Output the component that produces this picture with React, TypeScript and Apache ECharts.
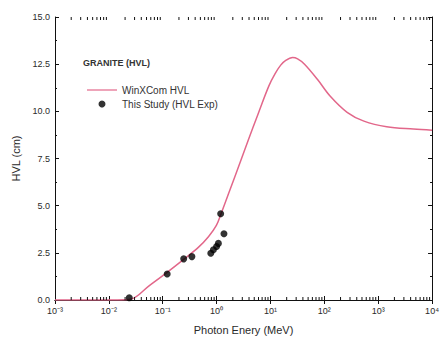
import React, { useEffect, useRef } from "react";
import * as echarts from "echarts";

const curveEnergy = [0.001, 0.0144, 0.026, 0.0557, 0.119, 0.245, 0.463, 0.706, 0.99, 1.22, 1.65, 2.86, 3.85, 5.87, 9.35, 12.2, 15.5, 19.2, 25.8, 31.9, 42.9, 74.3, 129, 265, 543, 1438, 4510, 10000];
const curveHVL = [0, 0, 0.05, 0.75, 1.45, 2.15, 2.8, 3.35, 3.95, 4.6, 5.6, 7.45, 8.45, 9.85, 11.35, 12.0, 12.45, 12.7, 12.85, 12.78, 12.5, 11.7, 10.8, 9.95, 9.48, 9.18, 9.06, 9.0];

const expEnergy = [0.0239, 0.121, 0.245, 0.348, 0.78, 0.873, 1.0, 1.08, 1.19, 1.37];
const expHVL = [0.12, 1.38, 2.18, 2.3, 2.48, 2.66, 2.84, 3.0, 4.57, 3.51];

const xDecades = [-3, -2, -1, 0, 1, 2, 3, 4];
const yTicks = ["0.0", "2.5", "5.0", "7.5", "10.0", "12.5", "15.0"];

const supMap: Record<string, string> = { "-": "⁻", "0": "⁰", "1": "¹", "2": "²", "3": "³", "4": "⁴", "5": "⁵", "6": "⁶", "7": "⁷", "8": "⁸", "9": "⁹" };
const fmtPow = (v: number) => {
  const e = Math.round(Math.log10(v));
  return "10" + String(e).split("").map((c) => supMap[c] || c).join("");
};

const minorTickEnergies: number[] = [];
xDecades.slice(0, -1).forEach((d) => {
  for (let k = 2; k <= 9; k++) minorTickEnergies.push(k * Math.pow(10, d));
});

export default function App() {
  const ref = useRef<HTMLDivElement>(null);
  useEffect(() => {
    if (!ref.current) return;
    const chart = echarts.init(ref.current, null, { renderer: "svg" });
    const textColor = "#2a2a2a";
    const font = "Liberation Sans";
    const curveColor = "#e2678a";
    chart.setOption({
      animation: false,
      backgroundColor: "#fff",
      title: {
        text: "GRANITE (HVL)",
        left: 78,
        top: 53,
        textStyle: { fontFamily: font, fontSize: 9, fontWeight: "bold", color: "#333" },
      },
      legend: {
        orient: "vertical",
        left: 82,
        top: 80,
        itemWidth: 30,
        itemHeight: 7,
        itemGap: 4,
        symbolKeepAspect: true,
        textStyle: { fontFamily: font, fontSize: 10, color: "#333" },
        data: [
          { name: "WinXCom HVL", icon: "path://M0,0L30,0L30,1.2L0,1.2Z" },
          { name: "This Study (HVL Exp)", icon: "circle" },
        ],
      },
      grid: { left: 55, right: 5, top: 17, bottom: 42 },
      xAxis: [
        {
          type: "log",
          logBase: 10,
          min: 0.001,
          max: 10000,
          name: "Photon Enery (MeV)",
          nameLocation: "middle",
          nameGap: 24,
          nameTextStyle: { fontFamily: font, fontSize: 11, color: textColor },
          axisLine: { show: true, lineStyle: { color: "#111", width: 1 } },
          axisTick: { show: true, inside: true, length: 4, lineStyle: { color: "#111" } },
          axisLabel: { formatter: fmtPow, fontFamily: font, fontSize: 9, color: textColor, margin: 6 },
          splitLine: { show: false },
        },
        {
          type: "log",
          logBase: 10,
          min: 0.001,
          max: 10000,
          position: "top",
          axisLine: { show: true, lineStyle: { color: "#111", width: 1 } },
          axisTick: { show: true, inside: true, length: 4, lineStyle: { color: "#111" } },
          axisLabel: { show: false },
          splitLine: { show: false },
        },
      ],
      yAxis: [
        {
          type: "value",
          min: 0,
          max: 15,
          interval: 2.5,
          name: "HVL (cm)",
          nameLocation: "middle",
          nameGap: 31,
          nameTextStyle: { fontFamily: font, fontSize: 11, color: textColor },
          axisLine: { show: true, lineStyle: { color: "#111", width: 1 } },
          axisTick: { show: true, inside: true, length: 4, lineStyle: { color: "#111" } },
          minorTick: { show: true, splitNumber: 2, length: 2, lineStyle: { color: "#111" } },
          axisLabel: {
            formatter: (v: number) => yTicks[Math.round(v / 2.5)] ?? v.toFixed(1),
            fontFamily: font,
            fontSize: 9,
            color: textColor,
            margin: 5,
          },
          splitLine: { show: false },
        },
        {
          type: "value",
          min: 0,
          max: 15,
          interval: 2.5,
          position: "right",
          axisLine: { show: true, lineStyle: { color: "#111", width: 1 } },
          axisTick: { show: true, inside: true, length: 4, lineStyle: { color: "#111" } },
          minorTick: { show: true, splitNumber: 2, length: 2, lineStyle: { color: "#111" } },
          axisLabel: { show: false },
          splitLine: { show: false },
        },
      ],
      series: [
        {
          name: "WinXCom HVL",
          type: "line",
          data: curveEnergy.map((e, i) => [e, curveHVL[i]]),
          symbol: "none",
          showSymbol: false,
          smooth: 0.35,
          lineStyle: { color: curveColor, width: 1.5 },
          itemStyle: { color: curveColor },
          z: 3,
        },
        {
          name: "This Study (HVL Exp)",
          type: "scatter",
          data: expEnergy.map((e, i) => [e, expHVL[i]]),
          symbol: "circle",
          symbolSize: 7,
          itemStyle: { color: "#000" },
          z: 4,
        },
        {
          type: "custom",
          silent: true,
          clip: false,
          data: minorTickEnergies.map((e) => [e, 0]),
          renderItem: (params: any, api: any) => {
            const x = api.coord([api.value(0), 0])[0];
            const cs = params.coordSys;
            const yb = cs.y + cs.height;
            const yt = cs.y;
            return {
              type: "group",
              children: [
                { type: "line", shape: { x1: x, y1: yb, x2: x, y2: yb - 3 }, style: { stroke: "#111", lineWidth: 1 } },
                { type: "line", shape: { x1: x, y1: yt, x2: x, y2: yt + 3 }, style: { stroke: "#111", lineWidth: 1 } },
              ],
            };
          },
          z: 5,
        },
      ],
    });
    return () => chart.dispose();
  }, []);
  return <div ref={ref} style={{ position: "fixed", left: 0, top: 0, width: 442, height: 342 }} />;
}
